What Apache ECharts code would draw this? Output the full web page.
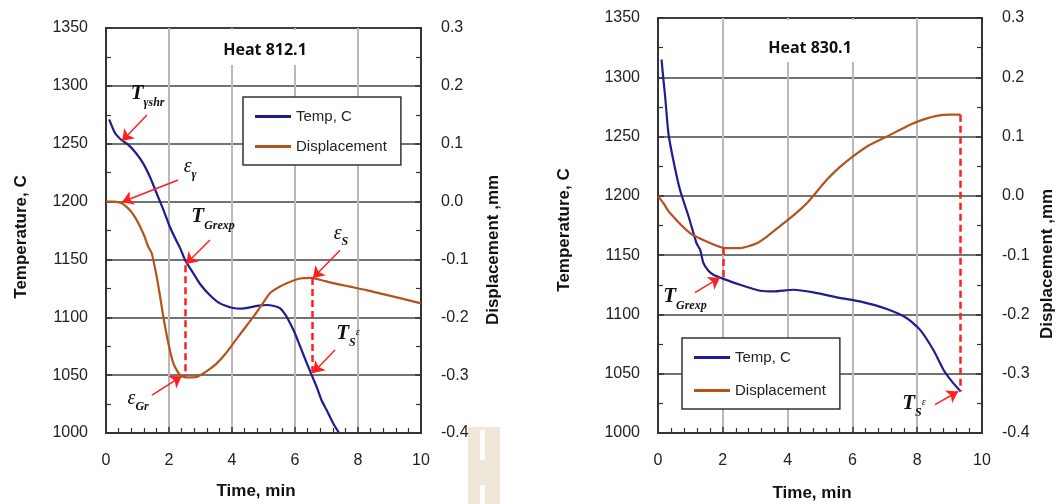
<!DOCTYPE html>
<html>
<head>
<meta charset="utf-8">
<script src="https://cdn.jsdelivr.net/npm/echarts@6/dist/echarts.min.js"></script>
<style>
  html, body { margin: 0; background: #fff; }
  #chart { width: 1059px; height: 504px; }
</style>
</head>
<body>
<div id="chart"></div>
<script>
// axis ranges
const timeRange = [0, 10, 2];
const tempRange = [1000, 1350, 50];
const dispRange = [-0.4, 0.3, 0.1];

// Heat 812.1
const h812TempTime = [0.1, 0.29, 0.5, 0.71, 0.95, 1.18, 1.4, 1.61, 1.82, 2.03, 2.2, 2.35, 2.51, 2.75, 2.98, 3.3, 3.62, 4.04, 4.3, 4.57, 4.85, 5.1, 5.3, 5.52, 5.7, 5.84, 6.0, 6.16, 6.35, 6.53, 6.7, 6.84, 7.0, 7.21, 7.4];
const h812Temp = [1271, 1259, 1253, 1249, 1242, 1233, 1221, 1207, 1193, 1178, 1168, 1160, 1149.5, 1139, 1129, 1119, 1112, 1108, 1107.5, 1108.6, 1110, 1110.6, 1110, 1108, 1102, 1095, 1086, 1075, 1062, 1050, 1039, 1028.5, 1020, 1008.5, 1000];
const h812DispTime = [0, 0.25, 0.5, 0.76, 0.92, 1.08, 1.22, 1.34, 1.45, 1.61, 1.72, 1.82, 1.98, 2.14, 2.35, 2.56, 2.88, 3.2, 3.51, 3.78, 4.04, 4.36, 4.68, 4.95, 5.21, 5.48, 5.74, 6.16, 6.53, 6.85, 7.21, 7.74, 8.27, 8.8, 9.33, 10];
const h812Disp = [0, 0, -0.003, -0.015, -0.027, -0.043, -0.06, -0.078, -0.089, -0.13, -0.165, -0.199, -0.245, -0.28, -0.3, -0.304, -0.303, -0.293, -0.28, -0.264, -0.245, -0.222, -0.199, -0.178, -0.158, -0.148, -0.141, -0.133, -0.132, -0.136, -0.141, -0.147, -0.153, -0.16, -0.167, -0.176];

// Heat 830.1
const h830TempTime = [0.11, 0.16, 0.22, 0.32, 0.47, 0.68, 0.94, 1.19, 1.3, 1.4, 1.55, 1.71, 2.02, 2.53, 3.15, 3.56, 4.18, 4.8, 5.6, 6.23, 7.06, 7.67, 8.09, 8.5, 8.81, 9.07, 9.34];
const h830Temp = [1315, 1300, 1284, 1253, 1230.5, 1205, 1183, 1160, 1154.6, 1143.4, 1137, 1133.5, 1130, 1125, 1120, 1119.4, 1120.8, 1118.6, 1114, 1111, 1104.6, 1097, 1087, 1070, 1053.4, 1043.5, 1035];
const h830DispTime = [0, 0.16, 0.37, 0.99, 1.5, 2.07, 2.53, 3.05, 3.4, 3.77, 4.2, 4.6, 5.21, 5.6, 6.03, 6.5, 7.06, 7.78, 8.2, 8.6, 9.0, 9.34];
const h830Disp = [0, -0.012, -0.029, -0.063, -0.077, -0.088, -0.088, -0.08, -0.067, -0.051, -0.032, -0.012, 0.027, 0.048, 0.067, 0.085, 0.1, 0.12, 0.129, 0.135, 0.137, 0.137];

// annotations, in (time, temperature) units
const h812Arrows = [
  [[1.30, 1274.8], [0.51, 1252.3]],
  [[2.29, 1218.6], [0.51, 1199.6]],
  [[3.30, 1166.8], [2.54, 1146]],
  [[7.43, 1158], [6.57, 1134]],
  [[7.27, 1071.7], [6.57, 1051.8]],
  [[1.46, 1032.8], [2.40, 1049]]
];
const h812Dashed = [
  [[2.5, 1145], [2.5, 1049]],
  [[6.55, 1134], [6.55, 1050]]
];
const h812Labels = [
  [1.32, 1289.5, '{T|T}{s|γshr}'],
  [2.67, 1226.4, '{E|ε}{s|γ}'],
  [3.40, 1183, '{T|T}{s|Grexp}'],
  [7.46, 1168.5, '{E|ε}{s|S}'],
  [7.68, 1082, '{T|T}{s|S}{p|ε}'],
  [1.02, 1026, '{E|ε}{s|Gr}']
];
const h830Arrows = [
  [[1.14, 1118.3], [1.91, 1131]],
  [[8.55, 1023.9], [9.26, 1035]]
];
const h830Dashed = [
  [[2.0, 1156], [2.0, 1130]],
  [[9.34, 1268.5], [9.34, 1035]]
];
const h830Labels = [
  [0.83, 1111.6, '{T|T}{s|Grexp}'],
  [7.90, 1021, '{T|T}{s|S}{p|ε}']
];

const blue = '#1e1e8c';
const brown = '#b3531d';
const red = '#ff1f1f';
const sans = 'Liberation Sans, Arial, sans-serif';
const serif = 'Liberation Serif, Times New Roman, serif';

const pairs = (xs, ys) => xs.map((x, i) => [x, ys[i]]);

const richLabel = {
  T: { fontFamily: serif, fontStyle: 'italic', fontWeight: 'bold', fontSize: 21, color: '#111', lineHeight: 22, padding: [0, 0, 5, 0], verticalAlign: 'bottom' },
  E: { fontFamily: serif, fontStyle: 'italic', fontSize: 20, color: '#111', lineHeight: 20, padding: [0, 0, 4, 0], verticalAlign: 'bottom' },
  s: { fontFamily: serif, fontStyle: 'italic', fontWeight: 'bold', fontSize: 12, color: '#111', lineHeight: 12, verticalAlign: 'bottom' },
  p: { fontFamily: serif, fontStyle: 'italic', fontSize: 10, color: '#111', lineHeight: 10, verticalAlign: 'top' }
};

function markLines(arrows, dashed) {
  const data = [];
  arrows.forEach(a => data.push([
    { coord: a[0], symbol: 'none', lineStyle: { color: red, width: 1.5, type: 'solid' } },
    { coord: a[1], symbol: 'arrow', symbolSize: 11 }
  ]));
  dashed.forEach(d => data.push([
    { coord: d[0], symbol: 'none', lineStyle: { color: red, width: 2.5, type: [7, 4] } },
    { coord: d[1], symbol: 'none' }
  ]));
  return {
    silent: true,
    animation: false,
    label: { show: false },
    emphasis: { disabled: true },
    itemStyle: { color: red },
    data
  };
}

function markPoints(labels) {
  return {
    silent: true,
    animation: false,
    symbol: 'circle',
    symbolSize: 0,
    label: { show: true, position: 'inside', rich: richLabel },
    data: labels.map(l => ({ coord: [l[0], l[1]], label: { formatter: l[2] } }))
  };
}

function xAxis(gridIndex) {
  return {
    gridIndex, type: 'value',
    min: timeRange[0], max: timeRange[1], interval: timeRange[2],
    axisLine: { show: true, onZero: false, lineStyle: { color: '#333', width: 2 } },
    axisTick: { show: true, inside: true, length: 6, lineStyle: { color: '#333', width: 1.5 } },
    minorTick: { show: true, splitNumber: 5, length: 5, lineStyle: { color: '#333', width: 1.2 } },
    axisLabel: { margin: 20, fontSize: 16, color: '#222', fontFamily: sans, formatter: v => String(v) },
    splitLine: { show: true, lineStyle: { color: '#b9b9b9', width: 2 } }
  };
}

function yAxis(gridIndex, range, position, fmt) {
  return {
    gridIndex, type: 'value', position,
    min: range[0], max: range[1], interval: range[2],
    axisLine: { show: true, onZero: false, lineStyle: { color: '#333', width: 2 } },
    axisTick: { show: true, inside: true, length: 6, lineStyle: { color: '#333', width: 1.5 } },
    minorTick: { show: true, splitNumber: 2, length: 5, lineStyle: { color: '#333', width: 1.2 } },
    axisLabel: { margin: position === 'left' ? 18 : 20, fontSize: 16, color: '#222', fontFamily: sans, formatter: fmt },
    splitLine: { show: position === 'left', lineStyle: { color: '#444', width: 1.6 } }
  };
}

function lineSeries(name, xi, yi, data, color) {
  return {
    name, type: 'line', xAxisIndex: xi, yAxisIndex: yi,
    data, color, showSymbol: false, smooth: 0.2,
    lineStyle: { color, width: 2.2 },
    emphasis: { disabled: true },
    animation: false,
    z: 3
  };
}

function legend(left, top, gap) {
  return {
    orient: 'vertical', left, top,
    data: ['Temp, C', 'Displacement'],
    icon: 'rect', itemWidth: 36, itemHeight: 3, itemGap: gap,
    padding: [12, 14, 11, 12],
    borderColor: '#333', borderWidth: 1.5, borderRadius: 0,
    backgroundColor: '#fff',
    selectedMode: false,
    textStyle: { fontSize: 15, color: '#222', fontFamily: sans }
  };
}

function text(x, y, str, size, rotate, font) {
  return {
    type: 'text', x, y, rotation: rotate ? Math.PI / 2 : 0, silent: true, z: 10,
    style: { text: str, fontSize: size, fontWeight: 'bold', fontFamily: font || sans, fill: '#111', align: 'center', verticalAlign: 'middle' }
  };
}

const chart = echarts.init(document.getElementById('chart'), null, { renderer: 'canvas' });
chart.setOption({
  animation: false,
  backgroundColor: '#fff',
  grid: [
    { left: 106, top: 28, width: 315, height: 405, show: true, borderColor: '#333', borderWidth: 2, backgroundColor: 'transparent' },
    { left: 658, top: 18, width: 324, height: 415, show: true, borderColor: '#333', borderWidth: 2, backgroundColor: 'transparent' }
  ],
  xAxis: [xAxis(0), xAxis(1)],
  yAxis: [
    yAxis(0, tempRange, 'left', v => String(v)),
    yAxis(0, dispRange, 'right', v => v.toFixed(1)),
    yAxis(1, tempRange, 'left', v => String(v)),
    yAxis(1, dispRange, 'right', v => v.toFixed(1))
  ],
  legend: [legend(243, 97, 15), legend(682, 338, 18)],
  series: [
    Object.assign(lineSeries('Temp, C', 0, 0, pairs(h812TempTime, h812Temp), blue), {
      markLine: markLines(h812Arrows, h812Dashed),
      markPoint: markPoints(h812Labels)
    }),
    lineSeries('Displacement', 0, 1, pairs(h812DispTime, h812Disp), brown),
    Object.assign(lineSeries('Temp, C', 1, 2, pairs(h830TempTime, h830Temp), blue), {
      markLine: markLines(h830Arrows, h830Dashed),
      markPoint: markPoints(h830Labels)
    }),
    lineSeries('Displacement', 1, 3, pairs(h830DispTime, h830Disp), brown)
  ],
  graphic: [
    // beige scan artifact below the first chart
    { type: 'rect', z: -10, silent: true, shape: { x: 468, y: 427, width: 32, height: 77 }, style: { fill: '#efe7d8' } },
    { type: 'rect', z: -9, silent: true, shape: { x: 480, y: 430, width: 5, height: 30 }, style: { fill: '#fff' } },
    { type: 'rect', z: -9, silent: true, shape: { x: 480, y: 485, width: 5, height: 19 }, style: { fill: '#fff' } },
    // white boxes behind the chart titles, covering the vertical grid lines
    { type: 'rect', z: 9, silent: true, shape: { x: 212, y: 30, width: 110, height: 35 }, style: { fill: '#fff' } },
    { type: 'rect', z: 9, silent: true, shape: { x: 756, y: 20, width: 110, height: 42 }, style: { fill: '#fff' } },
    text(265, 50, 'Heat 812.1', 16, false, 'Open Sans, sans-serif'),
    text(810, 48, 'Heat 830.1', 16, false, 'Open Sans, sans-serif'),
    text(21, 237, 'Temperature, C', 17, true),
    text(564, 230, 'Temperature, C', 17, true),
    text(493, 250, 'Displacement ,mm', 17, true),
    text(1047, 264, 'Displacement ,mm', 17, true),
    text(256, 491, 'Time, min', 17, false),
    text(812, 493, 'Time, min', 17, false)
  ]
});
</script>
</body>
</html>
